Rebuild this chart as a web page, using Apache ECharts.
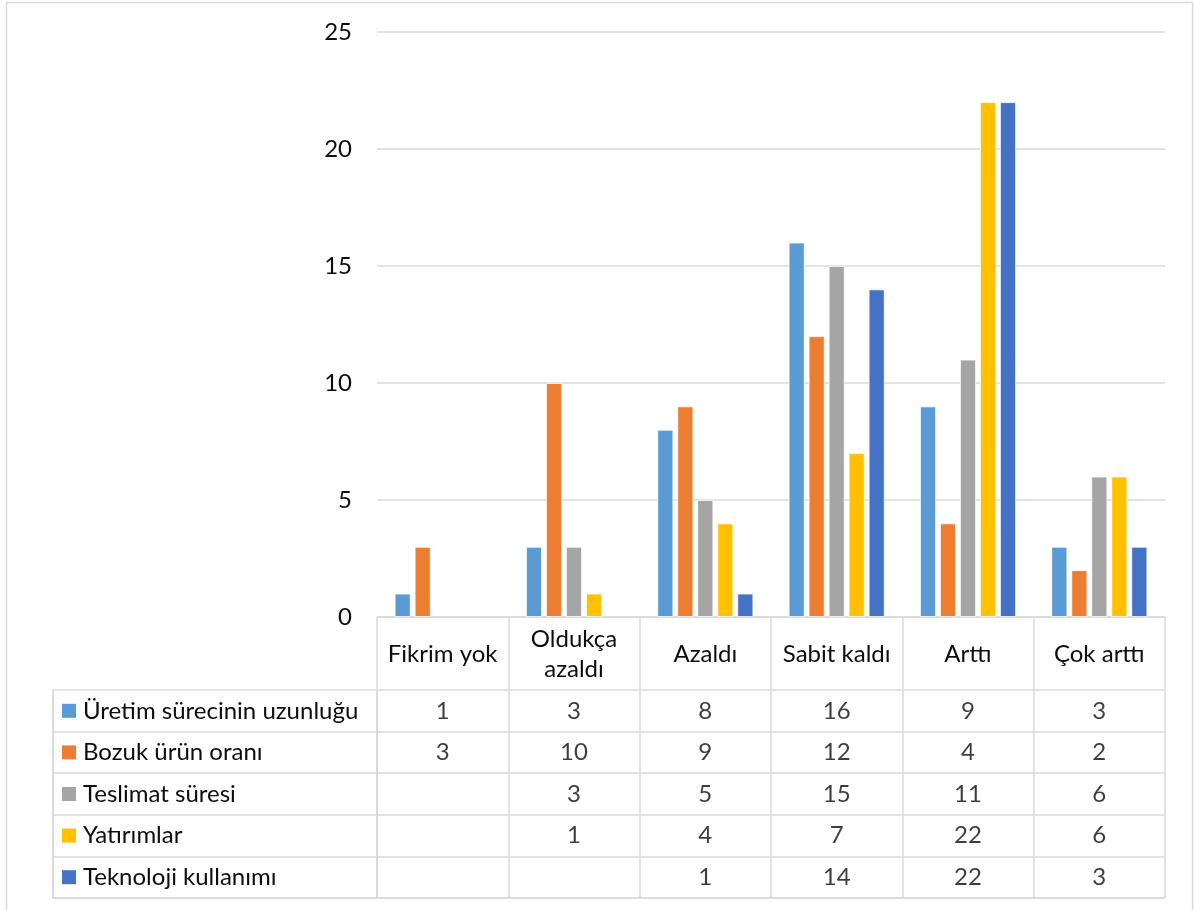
<!DOCTYPE html>
<html>
<head>
<meta charset="utf-8">
<style>html,body{margin:0;padding:0;background:#fff;}#c{width:1194px;height:910px;}</style>
<script src="https://cdn.jsdelivr.net/npm/echarts@6/dist/echarts.min.js"></script>
</head>
<body>
<div id="c"></div>
<script>
const categories = ['Fikrim yok', 'Oldukça\nazaldı', 'Azaldı', 'Sabit kaldı', 'Arttı', 'Çok arttı'];
const seriesNames = ['Üretim sürecinin uzunluğu', 'Bozuk ürün oranı', 'Teslimat süresi', 'Yatırımlar', 'Teknoloji kullanımı'];
const uretim = [1, 3, 8, 16, 9, 3];
const bozuk = [3, 10, 9, 12, 4, 2];
const teslimat = [null, 3, 5, 15, 11, 6];
const yatirimlar = [null, 1, 4, 7, 22, 6];
const teknoloji = [null, null, 1, 14, 22, 3];
const yTicks = [0, 5, 10, 15, 20, 25];
const colors = ['#5B9BD5', '#ED7D31', '#A5A5A5', '#FFC000', '#4472C4'];

const allValues = [uretim, bozuk, teslimat, yatirimlar, teknoloji];
const FONT = 'Lato';
const FS = 24;
const TXT = '#0d0d0d';
const LINE = '#d9d9d9';

const cellData = [];
allValues.forEach((arr, s) => arr.forEach((v, c) => { if (v !== null) cellData.push([c, s, v]); }));

const rich = { t: { fontSize: FS, fontFamily: FONT, color: TXT, padding: [0, 0, 0, 7] } };
colors.forEach((col, i) => { rich['s' + i] = { width: 14, height: 14, backgroundColor: col }; });

const chart = echarts.init(document.getElementById('c'), null, { renderer: 'canvas' });
chart.setOption({
  animation: false,
  textStyle: { fontFamily: FONT },
  graphic: [{ type: 'rect', shape: { x: 6.5, y: 2.5, width: 1186, height: 930 }, style: { fill: 'none', stroke: LINE, lineWidth: 1.5 }, silent: true }],
  grid: [
    { left: 377, right: 29, top: 32, bottom: 293 },
    { left: 377, right: 29, top: 690, height: 208 },
    { left: 53, width: 324, top: 690, height: 208 }
  ],
  xAxis: [
    { type: 'category', gridIndex: 0, data: categories,
      axisLine: { lineStyle: { color: LINE, width: 1.5 } },
      axisTick: { show: true, length: 72, interval: 0, lineStyle: { color: LINE, width: 1.5 } },
      axisLabel: { interval: 0, margin: 37, verticalAlign: 'middle', fontSize: FS, color: TXT, lineHeight: 30, fontFamily: FONT },
      splitLine: { show: false } },
    { type: 'category', gridIndex: 1, data: categories,
      axisLine: { show: true, lineStyle: { color: LINE, width: 1.5 } },
      axisTick: { show: false }, axisLabel: { show: false },
      splitLine: { show: true, interval: 0, lineStyle: { color: LINE, width: 1.5 } } },
    { type: 'category', gridIndex: 2, data: [''],
      axisLine: { show: true, lineStyle: { color: LINE, width: 1.5 } },
      axisTick: { show: false }, axisLabel: { show: false },
      splitLine: { show: true, interval: 0, lineStyle: { color: LINE, width: 1.5 } } }
  ],
  yAxis: [
    { type: 'value', gridIndex: 0, min: 0, max: 25, interval: 5,
      axisLine: { show: false }, axisTick: { show: false },
      axisLabel: { margin: 25, fontSize: FS, color: TXT, fontFamily: FONT, formatter: v => yTicks.includes(v) ? String(v) : '' },
      splitLine: { lineStyle: { color: LINE, width: 1.5 } } },
    { type: 'category', gridIndex: 1, data: seriesNames, inverse: true,
      axisLine: { show: true, lineStyle: { color: LINE, width: 1.5 } },
      axisTick: { show: false }, axisLabel: { show: false },
      splitLine: { show: true, interval: 0, lineStyle: { color: LINE, width: 1.5 } } },
    { type: 'category', gridIndex: 2, data: seriesNames, inverse: true,
      axisLine: { show: true, lineStyle: { color: LINE, width: 1.5 } },
      axisTick: { show: false },
      axisLabel: { inside: true, margin: 9, interval: 0, align: 'left',
        formatter: (v, i) => '{s' + i + '|}{t|' + v + '}', rich: rich },
      splitLine: { show: true, interval: 0, lineStyle: { color: LINE, width: 1.5 } } }
  ],
  series: allValues.map((arr, i) => ({
    type: 'bar', name: seriesNames[i], xAxisIndex: 0, yAxisIndex: 0,
    data: arr, barWidth: 16, barGap: '25%',
    itemStyle: { color: colors[i], borderColor: '#fff', borderWidth: 0.8 }
  })).concat([{
    type: 'scatter', xAxisIndex: 1, yAxisIndex: 1, data: cellData, symbolSize: 0,
    label: { show: true, position: 'inside', formatter: p => String(p.value[2]), fontSize: FS, color: TXT, fontFamily: FONT }
  }])
});
</script>
</body>
</html>
